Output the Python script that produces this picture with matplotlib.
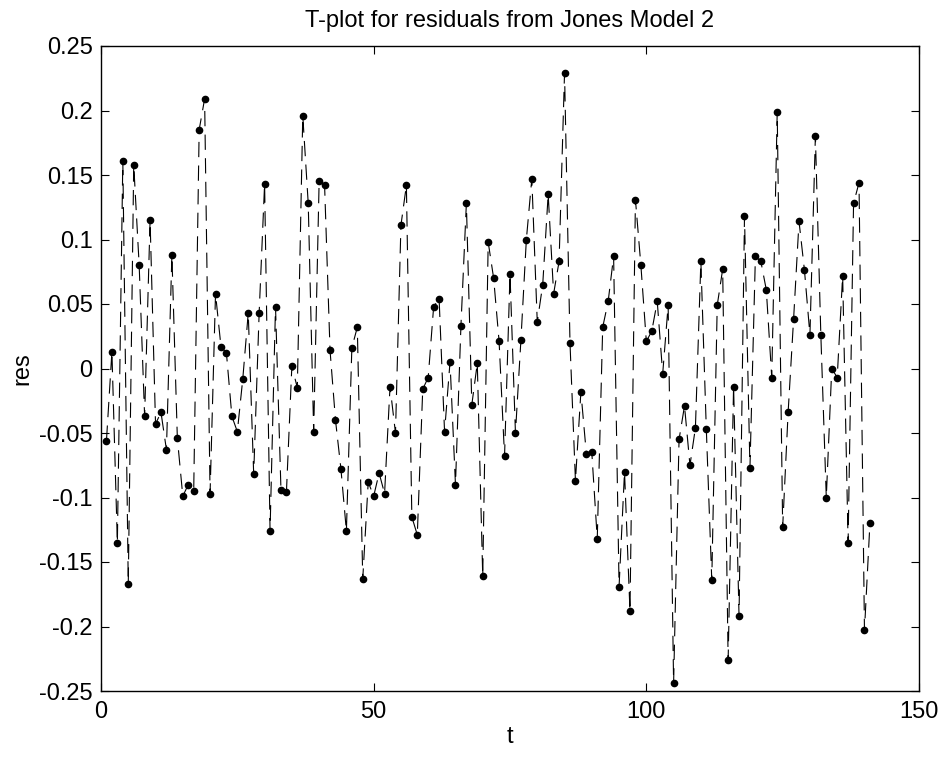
import numpy as np
import matplotlib
matplotlib.use("Agg")
import matplotlib.pyplot as plt

plt.rcParams['font.family'] = ['Liberation Sans', 'DejaVu Sans']
plt.rcParams['axes.unicode_minus'] = False
plt.rcParams['lines.scale_dashes'] = False

# residuals, t = 1..141
res = [
    -0.056, 0.013, -0.135, 0.161, -0.167, 0.158, 0.080, -0.037, 0.115, -0.043,
    -0.034, -0.063, 0.088, -0.054, -0.099, -0.090, -0.095, 0.185, 0.209, -0.097,
    0.058, 0.017, 0.012, -0.037, -0.049, -0.008, 0.043, -0.082, 0.043, 0.143,
    -0.126, 0.048, -0.094, -0.096, 0.002, -0.015, 0.196, 0.128, -0.049, 0.145,
    0.142, 0.014, -0.040, -0.078, -0.126, 0.016, 0.032, -0.163, -0.088, -0.099,
    -0.081, -0.097, -0.014, -0.050, 0.111, 0.142, -0.115, -0.129, -0.016, -0.007,
    0.048, 0.054, -0.049, 0.005, -0.090, 0.033, 0.128, -0.028, 0.004, -0.161,
    0.098, 0.070, 0.021, -0.068, 0.073, -0.050, 0.022, 0.100, 0.147, 0.036,
    0.065, 0.135, 0.058, 0.083, 0.229, 0.020, -0.087, -0.018, -0.066, -0.065,
    -0.132, 0.032, 0.052, 0.087, -0.169, -0.080, -0.188, 0.131, 0.080, 0.021,
    0.029, 0.052, -0.004, 0.049, -0.244, -0.055, -0.029, -0.075, -0.046, 0.083,
    -0.047, -0.164, 0.049, 0.077, -0.226, -0.014, -0.192, 0.118, -0.077, 0.087,
    0.083, 0.061, -0.007, 0.199, -0.123, -0.034, 0.038, 0.114, 0.076, 0.026,
    0.180, 0.026, -0.100, 0.000, -0.007, 0.072, -0.135, 0.128, 0.144, -0.203,
    -0.120,
]
t = np.arange(1, len(res) + 1)

xticks = [0, 50, 100, 150]
yticks = [-0.25, -0.2, -0.15, -0.1, -0.05, 0, 0.05, 0.1, 0.15, 0.2, 0.25]

fig = plt.figure(figsize=(9.46, 7.59), dpi=100)
ax = fig.add_axes([101 / 946, 1 - 691 / 759, 818 / 946, 645 / 759])

ax.plot(t, res, color='black', linewidth=0.8, dashes=(11, 6),
        marker='o', markersize=4.5, markerfacecolor='black',
        markeredgecolor='black')

ax.set_xlim(0, 150)
ax.set_ylim(-0.25, 0.25)
ax.set_xticks(xticks)
ax.set_yticks(yticks)
ax.set_xticklabels([str(v) for v in xticks])
ax.set_yticklabels(['%g' % v for v in yticks])
ax.tick_params(direction='in', length=6, width=0.8, top=True, right=True,
               labelsize=17)
ax.tick_params(axis='x', pad=7.5)
ax.tick_params(axis='y', pad=6)
for s in ax.spines.values():
    s.set_linewidth(1.0)

ax.set_title('T-plot for residuals from Jones Model 2', fontsize=17, pad=13.5)
ax.set_xlabel('t', fontsize=17, labelpad=2)
ax.set_ylabel('res', fontsize=17, labelpad=4)

fig.savefig('out.png', dpi=100)
